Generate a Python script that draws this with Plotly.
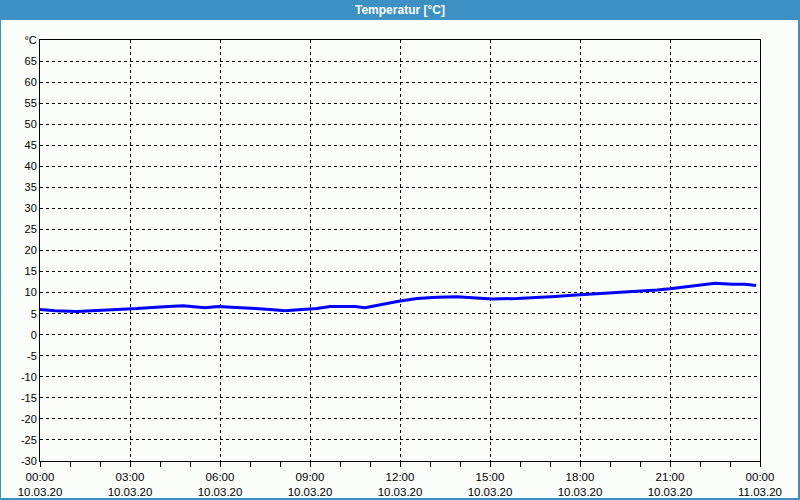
import plotly.graph_objects as go
import pandas as pd

# ---- data ----
hours = [0, 0.5, 1.23, 2.0, 2.57, 3.23, 3.83, 4.27, 4.77, 5.17, 5.5, 5.93, 6.5, 7.17,
         7.67, 8.17, 8.73, 9.23, 9.67, 10.5, 10.83, 11.27, 11.67, 12.0, 12.57, 13.23,
         13.9, 14.5, 15.07, 15.9, 16.67, 17.17, 17.73, 18.27, 18.73, 19.23, 20.0, 20.57,
         21.0, 21.33, 21.73, 22.17, 22.5, 23.07, 23.5, 23.87]
temps = [6.0, 5.7, 5.5, 5.7, 6.0, 6.2, 6.4, 6.7, 6.9, 6.7, 6.4, 6.7, 6.4, 6.2,
         6.0, 5.7, 6.0, 6.2, 6.7, 6.7, 6.4, 7.0, 7.7, 8.0, 8.6, 8.9,
         9.0, 8.8, 8.5, 8.6, 8.8, 9.1, 9.4, 9.6, 9.8, 10.1, 10.3, 10.6,
         10.9, 11.2, 11.6, 12.0, 12.2, 12.0, 12.0, 11.7]
x_tick_hours = [0, 3, 6, 9, 12, 15, 18, 21, 24]
x_tick_labels = ["00:00<br>10.03.20", "03:00<br>10.03.20", "06:00<br>10.03.20",
                 "09:00<br>10.03.20", "12:00<br>10.03.20", "15:00<br>10.03.20",
                 "18:00<br>10.03.20", "21:00<br>10.03.20", "00:00<br>11.03.20"]
y_tick_vals = list(range(-30, 75, 5))
y_tick_labels = [str(v) for v in y_tick_vals[:-1]] + ["°C"]
title_text = "Temperatur [°C]"

start = pd.Timestamp("2020-03-10 00:00")
times = [start + pd.Timedelta(hours=h) for h in hours]
tick_times = [start + pd.Timedelta(hours=h) for h in x_tick_hours]
minor_times = [start + pd.Timedelta(hours=h) for h in range(25)]

W, H = 800, 500
L, R, T, B = 40, 40, 40, 39
pw, ph = W - L - R, H - T - B

def px(x):
    return (x - L) / pw

def py(y):
    return (H - B - y) / ph

BLUE = "#3C90C4"
BG = "#FBFDFB"

fig = go.Figure()
fig.add_trace(go.Scatter(x=times, y=temps, mode="lines",
                         line=dict(color="#0000FF", width=3), hoverinfo="skip"))

shapes = [
    dict(type="rect", xref="paper", yref="paper", x0=px(0), x1=px(W), y0=py(20), y1=py(0),
         fillcolor=BLUE, line=dict(width=0), layer="above"),
    dict(type="rect", xref="paper", yref="paper", x0=px(0), x1=px(1), y0=py(H), y1=py(0),
         fillcolor=BLUE, line=dict(width=0), layer="above"),
    dict(type="rect", xref="paper", yref="paper", x0=px(798), x1=px(W), y0=py(H), y1=py(0),
         fillcolor=BLUE, line=dict(width=0), layer="above"),
    dict(type="rect", xref="paper", yref="paper", x0=px(0), x1=px(W), y0=py(H), y1=py(498),
         fillcolor=BLUE, line=dict(width=0), layer="above"),
]

font_family = "Liberation Sans, Arial, sans-serif"

fig.update_layout(
    width=W, height=H,
    margin=dict(l=L, r=R, t=T, b=B, pad=0, autoexpand=False),
    paper_bgcolor=BG, plot_bgcolor=BG,
    showlegend=False,
    shapes=shapes,
    annotations=[dict(text="<b>" + title_text + "</b>", xref="paper", yref="paper",
                      x=px(400), y=py(10), xanchor="center", yanchor="middle",
                      showarrow=False, font=dict(color="white", size=12, family=font_family))],
    font=dict(family=font_family, size=11, color="#000000"),
)

fig.update_xaxes(
    type="date", automargin=False,
    range=[tick_times[0], tick_times[-1]],
    tickmode="array", tickvals=tick_times, ticktext=x_tick_labels,
    ticks="outside", ticklen=5, tickcolor="black", tickwidth=1,
    showgrid=True, gridcolor="black", gridwidth=1, griddash="3px,3px",
    showline=True, linecolor="black", linewidth=1, mirror=True,
    zeroline=False,
    minor=dict(tickmode="array", tickvals=minor_times, ticks="outside", ticklen=5,
               tickcolor="black", tickwidth=1, showgrid=False),
    tickfont=dict(size=11.5, color="black", family=font_family),
    fixedrange=True,
)
fig.update_yaxes(
    range=[-30, 70], automargin=False,
    tickmode="array", tickvals=y_tick_vals, ticktext=y_tick_labels,
    ticks="", showgrid=True, gridcolor="black", gridwidth=1, griddash="3px,3px",
    showline=True, linecolor="black", linewidth=1, mirror=True,
    zeroline=False,
    tickfont=dict(size=11, color="black", family=font_family),
    fixedrange=True,
)

fig.write_html("out.html")
